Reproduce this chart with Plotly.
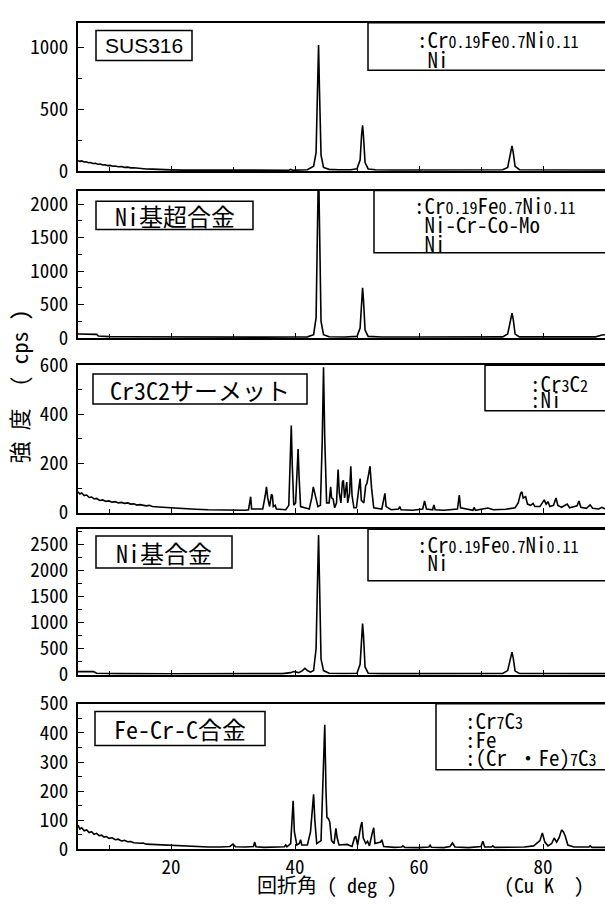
import plotly.graph_objects as go

W, H = 605, 906

# ---------------- data (2theta in deg, intensity in cps) ----------------
sus_angle = [5.0, 5.3, 5.6, 6.0, 6.3, 6.7, 7.0, 7.4, 7.8, 8.2, 8.6, 9.0, 9.4, 9.8, 10.2, 10.6,
             11.0, 11.5, 12.0, 12.5, 13.0, 13.5, 14.0, 15.0, 15.5, 16.0, 17.0, 18.0, 18.5, 19.0,
             20.0, 22.0, 25.0, 28.0, 31.0, 34.0, 37.0, 39.0, 39.3, 39.6,
             40.0, 42.0, 43.0, 43.4, 43.65, 43.8, 43.95, 44.2, 44.6, 45.5, 47.0, 49.0, 50.0, 50.5,
             50.75, 50.9, 51.05, 51.3, 51.8, 53.0, 56.0, 60.0, 65.0, 70.0, 73.5, 74.3, 74.75, 75.0,
             75.2, 75.5, 76.2, 80.0, 85.0, 90.0]
sus_counts = [85, 80, 83, 74, 76, 68, 70, 62, 64, 56, 58, 50, 52, 45, 47, 40,
              42, 36, 38, 31, 33, 27, 28, 22, 24, 18, 17, 14, 16, 12,
              11, 9, 8, 8, 7, 8, 8, 8, 14, 8,
              9, 12, 40, 150, 700, 1020, 650, 130, 30, 15, 12, 12, 20, 90,
              300, 370, 280, 70, 18, 12, 10, 10, 10, 10, 12, 30, 140, 205,
              150, 40, 12, 10, 10, 10]

ni_super_angle = [5.0, 6.0, 7.0, 7.5, 8.0, 8.3, 9.0, 10.0, 12.0, 15.0, 20.0, 25.0, 30.0, 35.0, 40.0,
                  42.0, 43.0, 43.4, 43.65, 43.8, 43.95, 44.2, 44.6, 45.5, 48.0, 50.0, 50.5, 50.75,
                  50.9, 51.05, 51.3, 51.8, 54.0, 60.0, 65.0, 70.0, 73.5, 74.3, 74.75, 75.0, 75.2,
                  75.5, 76.2, 80.0, 85.0, 88.5, 89.5, 90.0]
ni_super_counts = [60, 58, 56, 60, 55, 30, 25, 22, 20, 18, 15, 14, 14, 14, 15,
                   18, 50, 300, 1800, 2600, 1700, 250, 50, 20, 15, 25, 150, 600,
                   750, 560, 120, 25, 15, 15, 14, 14, 18, 60, 260, 370, 280,
                   60, 18, 15, 15, 18, 45, 50]

cermet_angle = [5.0, 5.3, 5.6, 6.0, 6.4, 6.8, 7.2, 7.6, 8.0, 8.5, 9.0, 9.5, 10.0, 10.5, 11.0, 11.5,
                12.0, 12.5, 13.0, 13.5, 14.0, 14.5, 15.0, 16.0, 16.5, 17.0, 18.0, 19.0, 20.0, 21.0,
                22.0, 24.0, 26.0, 28.0, 30.0, 32.0,
                32.5, 32.7, 32.85, 33.0, 34.8, 35.2, 35.4, 35.6, 35.9, 36.2, 36.35, 36.5, 36.8, 37.0,
                38.5, 39.0, 39.25, 39.4, 39.55, 39.8, 40.1, 40.35, 40.5, 40.65, 40.9,
                42.3, 42.7, 42.95, 43.2, 43.45, 43.7,
                44.1, 44.4, 44.6, 44.8, 45.1, 45.5, 45.75, 45.9, 46.15, 46.4, 46.7, 46.95, 47.15,
                47.4, 47.65, 47.8, 48.0, 48.2, 48.35, 48.5, 48.8, 49.0, 49.2, 49.5, 49.9, 50.3,
                50.5, 50.7, 51.1, 51.4, 51.6, 51.9, 52.1, 52.35, 52.7,
                54.0, 54.35, 54.5, 54.7, 55.5, 56.7, 56.9, 57.1, 59.0, 60.6, 60.9, 61.2, 62.2,
                62.4, 62.6, 64.0, 66.2, 66.5, 66.7, 68.7, 68.9, 69.1, 71.1, 72.0, 74.0, 75.5,
                76.0, 76.4, 76.6, 76.8, 77.2, 77.5, 78.0, 78.4, 78.7, 79.5, 80.0, 80.2, 80.5,
                80.8, 81.1, 81.7, 82.1, 82.4, 83.0, 83.9, 84.3, 85.5, 85.8, 86.1, 87.0, 87.6,
                88.0, 89.0, 89.5, 90.0]
cermet_counts = [85, 76, 80, 70, 72, 62, 64, 56, 58, 50, 52, 46, 48, 43, 45, 40,
                 42, 38, 40, 35, 36, 31, 33, 28, 30, 25, 23, 21, 19, 20,
                 16, 14, 12, 11, 10, 10,
                 12, 55, 65, 15, 15, 70, 105, 60, 25, 75, 70, 25, 30, 15,
                 12, 30, 250, 355, 200, 30, 40, 200, 259, 150, 25,
                 15, 60, 105, 80, 55, 25,
                 30, 300, 592, 300, 40, 40, 105, 60, 55, 20, 40, 176, 80,
                 40, 125, 132, 60, 110, 125, 40, 80, 189, 70, 20, 20, 100,
                 139, 50, 40, 110, 119, 160, 189, 100, 20,
                 15, 70, 79, 25, 12, 15, 25, 12, 10, 15, 48, 15, 12,
                 32, 12, 10, 15, 72, 20, 10, 22, 10, 19, 12, 14, 20,
                 40, 80, 85, 60, 65, 35, 30, 38, 25, 25, 45, 52, 35,
                 45, 25, 30, 60, 30, 22, 35, 20, 28, 48, 22, 18, 32,
                 18, 15, 22, 15]

ni_base_angle = [5.0, 6.0, 7.0, 7.5, 8.0, 9.0, 12.0, 20.0, 30.0, 38.0, 39.3, 39.8, 40.1, 40.6, 41.2,
                 41.6, 42.0, 42.5, 43.0, 43.4, 43.65, 43.8, 43.95, 44.2, 44.6, 45.5, 48.0, 50.0,
                 50.5, 50.75, 50.9, 51.05, 51.3, 51.8, 54.0, 60.0, 65.0, 70.0, 73.5, 74.3, 74.75,
                 75.0, 75.2, 75.5, 76.2, 80.0, 85.0, 90.0]
ni_base_counts = [60, 62, 60, 62, 30, 25, 22, 20, 20, 22, 40, 60, 55, 40, 80,
                  125, 80, 50, 80, 500, 1900, 2690, 1800, 300, 80, 30, 25, 30,
                  200, 800, 983, 750, 150, 30, 22, 22, 22, 22, 25, 80, 320,
                  435, 320, 70, 25, 22, 22, 22]

fecrc_angle = [5.0, 5.3, 5.6, 6.0, 6.4, 6.8, 7.2, 7.6, 8.0, 8.4, 8.8, 9.2, 9.6, 10.0, 10.5, 11.0,
               11.5, 12.0, 12.5, 13.0, 13.5, 14.0, 15.0, 15.5, 16.0, 17.0, 18.0, 19.0, 20.0, 21.0,
               22.0, 24.0, 26.0, 28.0, 29.5, 30.0, 30.4,
               32.0, 33.3, 33.5, 33.7, 35.0, 37.0, 38.3, 38.5, 38.7, 39.3, 39.55, 39.7, 39.9,
               40.3, 40.7, 40.9, 41.1, 42.0, 42.5, 42.85, 43.0, 43.2, 43.5, 44.2, 44.55, 44.8,
               45.0, 45.15, 45.4, 45.6, 45.9, 46.3, 46.6, 46.8, 47.1, 48.4, 49.2, 49.6, 49.8,
               50.1, 50.6, 50.8, 51.0, 51.4, 51.7, 52.0, 52.5, 52.7, 52.9, 53.8, 54.0, 54.3,
               56.0, 57.2, 57.4, 57.7, 60.0, 61.6, 61.8, 62.0, 64.0, 65.0, 65.4, 65.8, 68.0,
               70.0, 70.3, 70.6, 71.7, 71.9, 72.2, 75.0, 75.9, 77.0, 78.5, 79.5, 79.9, 80.3,
               80.8, 81.4, 81.8, 82.2, 82.6, 83.0, 83.3, 83.6, 84.0, 85.0, 87.4, 87.6, 87.9, 90.0]
fecrc_counts = [83, 70, 74, 64, 67, 58, 61, 52, 55, 47, 49, 42, 44, 38, 40, 33,
                35, 29, 31, 26, 27, 23, 21, 22, 18, 17, 15, 14, 12, 11,
                10, 9, 8, 8, 10, 18, 9,
                8, 10, 25, 9, 7, 7, 9, 15, 9, 20, 150, 167, 60,
                15, 20, 33, 15, 15, 60, 150, 189, 100, 20, 30, 250, 428,
                200, 110, 105, 94, 30, 20, 72, 40, 15, 17, 10, 40, 45,
                15, 80, 94, 40, 20, 28, 12, 60, 74, 20, 25, 33, 10,
                7, 8, 12, 7, 6, 8, 14, 7, 6, 10, 22, 8, 6,
                10, 28, 8, 8, 12, 7, 7, 9, 8, 12, 30, 56, 25,
                12, 20, 39, 25, 40, 67, 60, 45, 15, 8, 8, 12, 7, 7]

sample_names = ["SUS316", "Ni基超合金", "Cr3C2サーメット", "Ni基合金", "Fe-Cr-C合金"]
y_max = [1200, 2200, 600, 2800, 500]
y_major = [500, 500, 200, 500, 100]
x_range = [5, 90]
x_tick_vals = [20, 40, 60, 80]
x_tick_labels = ["20", "40", "60", "80"]

# phase legend lines: list of (text, is_subscript) pieces
CFN = [(":Cr", 0), ("0.19", 1), ("Fe", 0), ("0.7", 1), ("Ni", 0), ("0.11", 1)]
legend_lines = [
    [CFN, [("\u00a0Ni", 0)]],
    [CFN, [("\u00a0Ni-Cr-Co-Mo", 0)], [("\u00a0Ni", 0)]],
    [[(":Cr", 0), ("3", 1), ("C", 0), ("2", 1)], [(":Ni", 0)]],
    [CFN, [("\u00a0Ni", 0)]],
    [[(":Cr", 0), ("7", 1), ("C", 0), ("3", 1)], [(":Fe", 0)],
     [(":(Cr\u00a0・Fe)", 0), ("7", 1), ("C", 0), ("3", 1)]],
]

series = [(sus_angle, sus_counts), (ni_super_angle, ni_super_counts), (cermet_angle, cermet_counts),
          (ni_base_angle, ni_base_counts), (fecrc_angle, fecrc_counts)]

# ---------------- layout geometry (pixels) ----------------
tops = [8, 181, 361, 530, 710]
bots = [161, 333, 513, 680, 860]
x_left = 78
name_boxes = [(96, 16, 192, 47), (96, 192, 253, 221), (93, 370, 307, 401), (96, 537, 232, 570), (95, 718, 265, 753)]
leg_boxes = [(368, 8, 57), (374, 181, 245), (485, 361, 408), (368, 530, 583), (436, 710, 778)]
leg_x = [415, 412, 528, 415, 463]
leg_yc = [35, 215, 388, 555, 746]       # centre of the text block
leg_step = [20, 19, 16, 18, 18.5]       # line pitch

MONO = "Noto Sans Mono CJK JP, Noto Sans CJK JP, Liberation Mono, monospace"
TICKFONT = dict(family=MONO, size=19, color="black")

def px(x):
    return x / W

def py(y):
    return 1 - y / H

def rich(pieces):
    out = ""
    for t, sub in pieces:
        out += "<span style='font-size:%dpx'>%s</span>" % (16 if sub else 21, t)
    return out

fig = go.Figure()
layout = dict(width=W, height=H, margin=dict(l=0, r=0, t=0, b=0),
              paper_bgcolor="white", plot_bgcolor="white", showlegend=False,
              shapes=[], annotations=[])

for i, (ang, cnt) in enumerate(series):
    n = i + 1
    sx = "" if n == 1 else str(n)
    fig.add_trace(go.Scatter(x=ang, y=cnt, mode="lines", line=dict(color="black", width=1.6),
                             xaxis="x" + sx, yaxis="y" + sx, hoverinfo="skip"))
    layout["xaxis" + sx] = dict(domain=[px(x_left), 1], range=x_range, anchor="y" + sx,
                                showline=True, linecolor="black", linewidth=1.8, mirror=True,
                                ticks="inside", ticklen=5, tickwidth=1.2, tickcolor="black",
                                tickmode="array", tickvals=x_tick_vals, ticktext=x_tick_labels,
                                minor=dict(tickvals=[10, 30, 50, 70, 90], ticks="inside", ticklen=4, tickcolor="black"),
                                showticklabels=(n == 5), showgrid=False, zeroline=False,
                                tickfont=TICKFONT)
    layout["yaxis" + sx] = dict(domain=[py(bots[i]), py(tops[i])], range=[0, y_max[i]], anchor="x" + sx,
                                showline=True, linecolor="black", linewidth=1.8,
                                ticks="inside", ticklen=6, tickwidth=1.2, tickcolor="black",
                                dtick=y_major[i], tick0=0,
                                minor=dict(dtick=y_major[i] / 2, ticks="inside", ticklen=4, tickcolor="black"),
                                showgrid=False, zeroline=False, ticklabelstandoff=4,
                                tickfont=TICKFONT)
    # sample name box
    x0, y0, x1, y1 = name_boxes[i]
    layout["shapes"].append(dict(type="rect", xref="paper", yref="paper", x0=px(x0), x1=px(x1),
                                 y0=py(y1), y1=py(y0), line=dict(color="black", width=1.5),
                                 fillcolor="white"))
    fam = "Liberation Sans, Arial, sans-serif" if i == 0 else MONO
    size = 21 if i == 0 else 24
    layout["annotations"].append(dict(text=sample_names[i], xref="paper", yref="paper",
                                      x=px((x0 + x1) / 2), y=py((y0 + y1) / 2), xanchor="center",
                                      yanchor="middle", showarrow=False,
                                      font=dict(family=fam, size=size, color="black")))
    # phase legend box
    lx0, ly0, ly1 = leg_boxes[i]
    layout["shapes"].append(dict(type="rect", xref="paper", yref="paper", x0=px(lx0), x1=px(W + 20),
                                 y0=py(ly1), y1=py(ly0), line=dict(color="black", width=1.5),
                                 fillcolor="white"))
    text = "<br>".join(rich(line) for line in legend_lines[i])
    layout["annotations"].append(dict(text=text, xref="paper", yref="paper", x=px(leg_x[i]),
                                      y=py(leg_yc[i]), xanchor="left", yanchor="middle", align="left",
                                      showarrow=False,
                                      font=dict(family=MONO, size=leg_step[i] / 1.3, color="black")))

# axis titles
layout["annotations"].append(dict(text="強\u00a0度\u00a0\u00a0(\u00a0cps\u00a0)", xref="paper", yref="paper",
                                  x=px(18), y=py(383), textangle=-90, showarrow=False,
                                  xanchor="center", yanchor="middle",
                                  font=dict(family=MONO, size=22, color="black")))
layout["annotations"].append(dict(text="回折角\u00a0(\u00a0deg\u00a0)", xref="paper", yref="paper",
                                  x=px(327), y=py(896), showarrow=False,
                                  xanchor="center", yanchor="middle",
                                  font=dict(family=MONO, size=20, color="black")))
layout["annotations"].append(dict(text="(Cu\u00a0K\u00a0\u00a0)", xref="paper", yref="paper",
                                  x=px(502), y=py(896), showarrow=False,
                                  xanchor="left", yanchor="middle",
                                  font=dict(family=MONO, size=20, color="black")))

fig.update_layout(**layout)
fig.write_html("out.html", post_script="document.body.style.margin='0';")
